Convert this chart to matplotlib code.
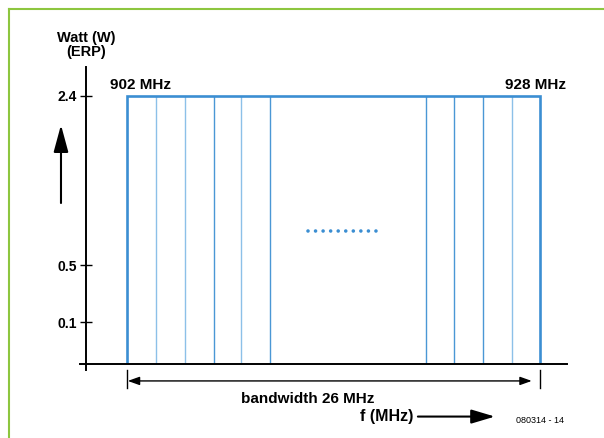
import numpy as np
import matplotlib
matplotlib.use("Agg")
import matplotlib.pyplot as plt
from matplotlib.lines import Line2D

plt.rcParams["font.family"] = ["Liberation Sans", "DejaVu Sans"]

# data (schematic of the 902-928 MHz band)
freq_lo = 902
freq_hi = 928
max_power = 2.4
channels_low = [903.8, 905.65, 907.5, 909.2, 911.0]
channels_high = [920.8, 922.6, 924.4, 926.25]
power_ticks = [0.1, 0.5, 2.4]
power_labels = ["0.1", "0.5", "2.4"]
gap_level = 0.88
gap_from, gap_to = 913.4, 918.1

# the vertical axis is drawn schematically (not linear)
scale_vals = [0, 0.1, 0.5, 2.4, 4.0]
scale_pos = [0, 42, 99, 269, 412]


def fwd(v):
    return np.interp(v, scale_vals, scale_pos)


def inv(p):
    return np.interp(p, scale_pos, scale_vals)


blue = "#3b8ed2"
light_blue = "#8cc0e8"
mid_blue = "#4a97d5"

fig = plt.figure(figsize=(6.04, 4.38), dpi=100)
ax = fig.add_axes([86 / 604, 1 - 364 / 438, 481 / 604, 297 / 438])
ax.set_yscale("function", functions=(fwd, inv))
ax.set_xlim(899.42, 929.7)
ax.set_ylim(0, 2.72)

# channel lines
low_cols = [light_blue, light_blue, mid_blue, light_blue, mid_blue]
high_cols = [mid_blue, mid_blue, mid_blue, light_blue]
ax.vlines(channels_low, 0, max_power, colors=low_cols, lw=1.0)
ax.vlines(channels_high, 0, max_power, colors=high_cols, lw=1.0)

# outer envelope
ax.plot([freq_lo, freq_lo, freq_hi, freq_hi], [0, max_power, max_power, 0],
        color=blue, lw=1.9, solid_joinstyle="miter")

# dotted gap
ax.plot([gap_from, gap_to], [gap_level, gap_level], color=blue, lw=2.6,
        linestyle=(0, (0.001, 2.09)), dash_capstyle="round")

# axes lines
for s in ax.spines.values():
    s.set_visible(False)
ax.plot([0, 0], [-0.02, 1], transform=ax.transAxes, color="black", lw=1.4, clip_on=False)
ax.plot([-0.0125, 1], [0, 0], transform=ax.transAxes, color="black", lw=1.4, clip_on=False)

ax.set_xticks([])
ax.set_yticks(power_ticks)
ax.set_yticklabels(power_labels, fontsize=10, fontweight="bold")
ax.yaxis.set_minor_locator(matplotlib.ticker.NullLocator())
ax.tick_params(axis="y", direction="inout", length=8.6, width=1.0, pad=2.0)

ax.text(0, 1.074, "Watt (W)\n(ERP)", transform=ax.transAxes, ha="center", va="center",
        fontsize=10.5, fontweight="bold", linespacing=1.05)

ax.annotate("902 MHz", xy=(freq_lo, max_power), xytext=(-12.2, 5), textcoords="offset points",
            ha="left", va="baseline", fontsize=11, fontweight="bold")
ax.annotate("928 MHz", xy=(freq_hi, max_power), xytext=(18.7, 5), textcoords="offset points",
            ha="right", va="baseline", fontsize=11, fontweight="bold")

# up arrow
ax.annotate("", xy=(-0.052, 0.805), xytext=(-0.052, 0.542), xycoords="axes fraction",
            arrowprops=dict(arrowstyle="-|>,head_length=1.66,head_width=0.45", color="black",
                            lw=1.5, shrinkA=0, shrinkB=0))

# bandwidth arrow
trans = ax.get_xaxis_transform()
ax.plot([freq_lo, freq_lo], [-0.02, -0.081], transform=trans, color="black", lw=1.0, clip_on=False)
ax.plot([freq_hi, freq_hi], [-0.02, -0.081], transform=trans, color="black", lw=1.0, clip_on=False)
ax.annotate("", xy=(freq_lo + 0.05, -0.057), xytext=(freq_hi - 0.52, -0.057),
            xycoords=trans, textcoords=trans,
            arrowprops=dict(arrowstyle="<|-|>,head_length=0.7,head_width=0.25", color="black",
                            lw=1.0, shrinkA=0, shrinkB=0))
ax.text(913.4, -0.118, "bandwidth 26 MHz", transform=trans, ha="center", va="center",
        fontsize=11, fontweight="bold")

# f (MHz) arrow
ax.text(0.680, -0.178, "f (MHz)", transform=ax.transAxes, ha="right", va="center",
        fontsize=11.5, fontweight="bold")
ax.annotate("", xy=(0.850, -0.177), xytext=(0.69, -0.177), xycoords="axes fraction",
            arrowprops=dict(arrowstyle="-|>,head_length=1.44,head_width=0.43", color="black",
                            lw=1.5, shrinkA=0, shrinkB=0))
ax.text(0.894, -0.191, "080314 - 14", transform=ax.transAxes, ha="left", va="center",
        fontsize=6.5)

# green frame
green = "#8dc63f"
fig.add_artist(Line2D([9 / 604, 1], [1 - 9 / 438, 1 - 9 / 438], color=green, lw=1.5))
fig.add_artist(Line2D([9 / 604, 9 / 604], [0, 1 - 9 / 438], color=green, lw=1.5))

fig.savefig("out.png", dpi=100)
